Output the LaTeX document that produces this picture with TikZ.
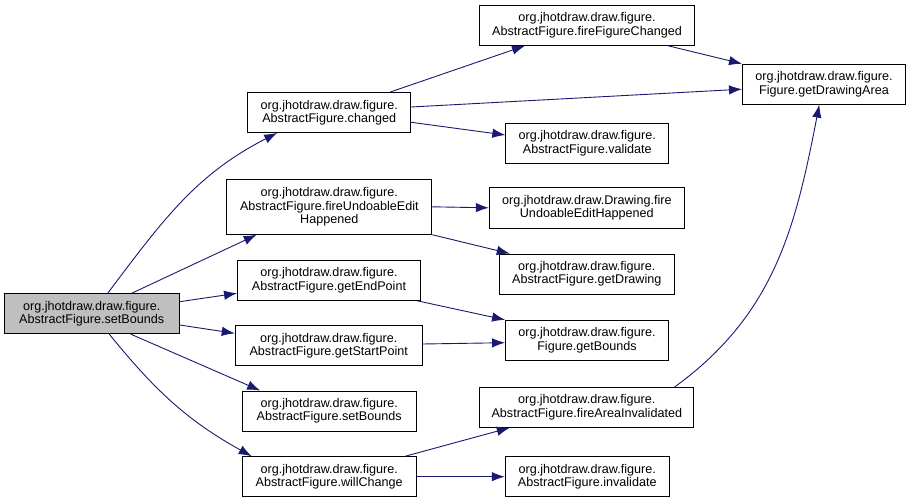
\documentclass[tikz,border=0pt]{standalone}
\usepackage{fontspec}
\setmainfont{Liberation Sans}
\usetikzlibrary{arrows.meta}
\definecolor{edgeblue}{HTML}{191970}
\definecolor{rootgray}{HTML}{BFBFBF}
\begin{document}
\begin{tikzpicture}[x=1pt,y=1pt,
	fn/.style={draw=black,line width=0.9pt,align=center,inner sep=0pt,minimum height=40pt,
		font=\fontsize{12.6}{13.4}\selectfont},
	call/.style={draw=edgeblue,line width=0.9pt,-{Latex[length=13pt,width=9.5pt]}}]
\useasboundingbox (0,0) rectangle (911,-503);

% caller
\path (91.7,-313.7) node[fn,fill=rootgray,minimum width=175pt] (root) {org.jhotdraw.draw.figure.\\AbstractFigure.setBounds};

% first column of callees
\path (329.2,-112.5) node[fn,minimum width=163pt] (changed) {org.jhotdraw.draw.figure.\\AbstractFigure.changed};
\path (329.3,-206.8) node[fn,minimum width=205pt,minimum height=55pt] (undo) {org.jhotdraw.draw.figure.\\AbstractFigure.fireUndoableEdit\\Happened};
\path (329,-280.3) node[fn,minimum width=183pt] (endpt) {org.jhotdraw.draw.figure.\\AbstractFigure.getEndPoint};
\path (328.7,-345.7) node[fn,minimum width=187pt] (startpt) {org.jhotdraw.draw.figure.\\AbstractFigure.getStartPoint};
\path (329.2,-411) node[fn,minimum width=174pt] (setb) {org.jhotdraw.draw.figure.\\AbstractFigure.setBounds};
\path (329.2,-476.7) node[fn,minimum width=174pt] (willch) {org.jhotdraw.draw.figure.\\AbstractFigure.willChange};

% second column
\path (587,-25.3) node[fn,minimum width=215pt] (figch) {org.jhotdraw.draw.figure.\\AbstractFigure.fireFigureChanged};
\path (587.3,-143.3) node[fn,minimum width=163pt] (valid) {org.jhotdraw.draw.figure.\\AbstractFigure.validate};
\path (586.8,-207.8) node[fn,minimum width=195pt,minimum height=41pt] (dundo) {org.jhotdraw.draw.Drawing.fire\\UndoableEditHappened};
\path (586.8,-274) node[fn,minimum width=175pt] (getdr) {org.jhotdraw.draw.figure.\\AbstractFigure.getDrawing};
\path (587,-340.3) node[fn,minimum width=163pt] (getb) {org.jhotdraw.draw.figure.\\Figure.getBounds};
\path (586.8,-407.3) node[fn,minimum width=214pt] (area) {org.jhotdraw.draw.figure.\\AbstractFigure.fireAreaInvalidated};
\path (587.2,-476.7) node[fn,minimum width=164pt] (inval) {org.jhotdraw.draw.figure.\\AbstractFigure.invalidate};

% third column
\path (824,-84.2) node[fn,minimum width=163pt] (drarea) {org.jhotdraw.draw.figure.\\Figure.getDrawingArea};

% calls from setBounds
\draw [call] ([xshift=16pt]root.north) to[out=53,in=207] ([xshift=-52pt]changed.south);
\draw [call] ([xshift=40pt]root.north) -- ([xshift=-72.6pt]undo.south);
\draw [call] ([yshift=12pt]root.east) -- ([yshift=-13pt]endpt.west);
\draw [call] ([yshift=-11.3pt]root.east) -- ([yshift=12.4pt]startpt.west);
\draw [call] ([xshift=39pt]root.south) -- ([xshift=-69pt]setb.north);
\draw [call] ([xshift=17.6pt]root.south) to[out=-51,in=151] ([xshift=-77.5pt]willch.north);

% further calls
\draw [call] ([xshift=61pt]changed.north) -- ([xshift=-62pt]figch.south);
\draw [call] ([yshift=5.5pt]changed.east) -- ([yshift=-5pt]drarea.west);
\draw [call] ([yshift=-9.8pt]changed.east) -- ([yshift=8.3pt]valid.west);
\draw [call] (undo.east) -- (dundo.west);
\draw [call] (undo.south east) -- ([xshift=-77pt]getdr.north);
\draw [call] ([xshift=81pt]figch.south) -- (drarea.north west);
\draw [call] ([xshift=-4pt]endpt.south east) -- (getb.north west);
\draw [call] ([yshift=1.7pt]startpt.east) -- ([yshift=-2.4pt]getb.west);
\draw [call] ([xshift=76pt]willch.north) -- ([xshift=-77pt]area.south);
\draw [call] (willch.east) -- (inval.west);
\draw [call] ([xshift=88pt]area.north) to[out=36,in=259] ([xshift=-4.7pt]drarea.south);

\end{tikzpicture}
\end{document}
